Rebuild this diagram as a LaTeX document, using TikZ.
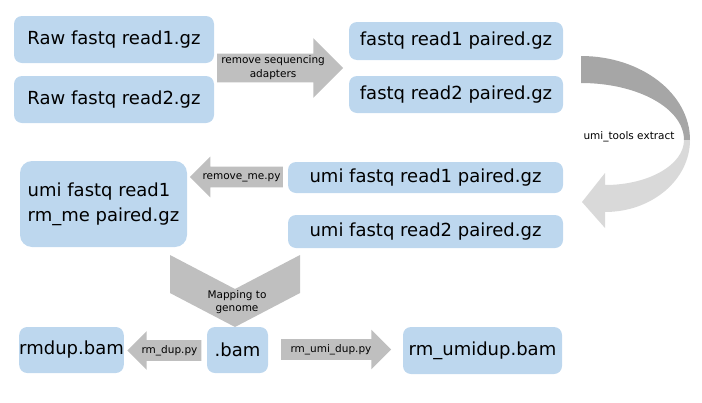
\documentclass[tikz,border=0pt]{standalone}
\usepackage{fontspec}
\setmainfont{DejaVu Sans}
\usepackage{tikz}
\usetikzlibrary{shapes.arrows,positioning}
\definecolor{boxblue}{RGB}{189,215,238}
\definecolor{arrowgrey}{RGB}{191,191,191}
\definecolor{curvedark}{RGB}{166,166,166}
\definecolor{curvelight}{RGB}{217,217,217}
\tikzset{
  file/.style={rectangle, rounded corners=8pt, fill=boxblue, inner sep=0pt, align=center, font=\fontsize{18}{25}\selectfont},
  blk/.style={single arrow, fill=arrowgrey, single arrow tip angle=90, single arrow head indent=0pt, minimum width=0pt, inner xsep=1pt, align=center, font=\fontsize{10.5}{14}\selectfont},
  oneline/.style={text height=8pt, text depth=2.5pt, inner ysep=5pt},
  lbl/.style={inner sep=0pt, align=center, font=\fontsize{10.5}{13}\selectfont},
}
\begin{document}
\begin{tikzpicture}[x=1pt,y=-1pt]
  \useasboundingbox (0,0) rectangle (702,402);
  % input files
  \node[file,minimum width=200pt,minimum height=47pt] (raw1) at (114,39.5) {Raw fastq read1.gz};
  \node[file,minimum width=200pt,minimum height=47pt] (raw2) at (114,99.5) {Raw fastq read2.gz};
  \node[file,minimum width=214pt,minimum height=38pt] (pair1) at (456,41) {fastq read1 paired.gz};
  \node[file,minimum width=214pt,minimum height=37pt] (pair2) at (456,94.5) {fastq read2 paired.gz};
  \node[file,minimum width=275pt,minimum height=31pt] (umi1) at (425.5,177.5) {umi fastq read1 paired.gz};
  \node[file,minimum width=275pt,minimum height=33pt] (umi2) at (425.5,231.5) {umi fastq read2 paired.gz};
  \node[file,align=left,rounded corners=12pt,minimum width=167pt,minimum height=86pt] (rmme) at (103.5,204) {umi fastq read1\\rm\_me paired.gz};
  \node[file,minimum width=103pt,minimum height=46pt] (rmdup) at (71.5,350) {rmdup.bam};
  \node[file,minimum width=61pt,minimum height=46pt] (bam) at (237.5,350) {.bam};
  \node[file,minimum width=159pt,minimum height=47pt] (rmumi) at (482.5,350.5) {rm\_umidup.bam};

  % block arrows
  \node[blk,inner ysep=2pt,single arrow head extend=15.5pt,minimum height=126pt,anchor=tail] (adapt) at (217,68) {remove sequencing\\adapters};
  \node[blk,oneline,single arrow head extend=10pt,minimum height=93pt,shape border rotate=180,anchor=tail] (rmmepy) at (283,177) {remove\_me.py};
  \node[blk,oneline,inner xsep=0pt,single arrow head extend=9pt,minimum height=74pt,shape border rotate=180,anchor=tip] (rmduppy) at (127,350.5) {rm\_dup.py};
  \node[blk,oneline,single arrow head extend=9.5pt,minimum height=110pt,anchor=tail] (rmumipy) at (281,349.5) {rm\_umi\_dup.py};

  % curved arrow
  \fill[curvedark] (581,56) .. controls (641.2,56) and (690,93.6) .. (690,140)
    -- (684,140) .. controls (684,108.5) and (637.9,83) .. (581,83) -- cycle;
  \fill[curvelight] (690,140) .. controls (690,179.7) and (651.9,212) .. (605,212)
    -- (605,228) -- (582,202) -- (605,173) -- (605,185)
    .. controls (648.6,185) and (684,164.8) .. (684,140) -- cycle;
  \node[lbl] (extract) at (629,137) {umi\_tools extract};

  % mapping chevron
  \fill[arrowgrey] (170,255) -- (235,289) -- (300,255) -- (300,293) -- (235,327) -- (170,293) -- cycle;
  \node[lbl] (mapping) at (237,302) {Mapping to\\genome};
\end{tikzpicture}
\end{document}
